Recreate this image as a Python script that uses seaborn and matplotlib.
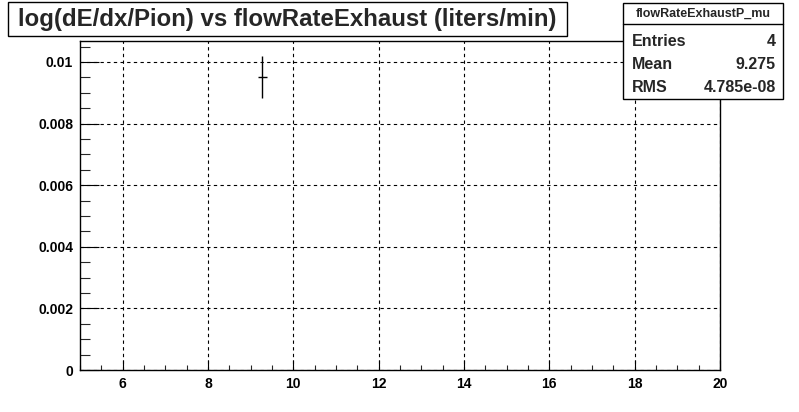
import matplotlib
matplotlib.use("Agg")
import matplotlib.pyplot as plt
import seaborn as sns
import numpy as np
from matplotlib.ticker import MultipleLocator

# data
flow_rate = [9.275]
dedx_mean = [0.00951]
dedx_err = [0.00069]
flow_halfwidth = [0.1]
stats_labels = ["Entries", "Mean", "RMS"]
stats_values = ["4", "9.275", "4.785e-08"]
title_text = "log(dE/dx/Pion) vs flowRateExhaust (liters/min)"
stats_name = "flowRateExhaustP_mu"

sns.set_theme(style="ticks")
plt.rcParams['font.family'] = ['Liberation Sans', 'DejaVu Sans']

fig = plt.figure(figsize=(7.99, 4.12), dpi=100)
W, H = 799, 412
ax = fig.add_axes([80/W, 1-370/H, 640/W, 329/H])

ax.errorbar(flow_rate, dedx_mean, yerr=dedx_err, xerr=flow_halfwidth,
            fmt='none', ecolor='black', elinewidth=1.0, capsize=0)

ax.set_xlim(5, 20)
ax.set_ylim(0, 0.01068)
ax.xaxis.set_major_locator(MultipleLocator(2))
ax.xaxis.set_minor_locator(MultipleLocator(0.5))
ax.yaxis.set_major_locator(MultipleLocator(0.002))
ax.yaxis.set_minor_locator(MultipleLocator(0.0005))
ax.set_xticks([6, 8, 10, 12, 14, 16, 18, 20])
ax.set_xticklabels(["6", "8", "10", "12", "14", "16", "18", "20"])
ax.set_yticks([0, 0.002, 0.004, 0.006, 0.008, 0.01])
ax.set_yticklabels(["0", "0.002", "0.004", "0.006", "0.008", "0.01"])

ax.grid(True, which='major', color='black', linestyle=(0, (3, 3)), linewidth=0.8)
for s in ['top', 'right', 'left', 'bottom']:
    ax.spines[s].set_visible(True)
    ax.spines[s].set_color('black')
    ax.spines[s].set_linewidth(1.0)

ax.tick_params(axis='x', which='major', direction='in', length=7.2, width=0.8,
               pad=5, labelsize=10, colors='black', top=False)
ax.tick_params(axis='x', which='minor', direction='in', length=3.6, width=0.8, top=False)
ax.tick_params(axis='y', which='major', direction='in', length=14, width=0.8,
               pad=5, labelsize=10, colors='black', right=False)
ax.tick_params(axis='y', which='minor', direction='in', length=7.2, width=0.8, right=False)
for lbl in ax.get_xticklabels() + ax.get_yticklabels():
    lbl.set_fontweight('bold')

# title box
tb = plt.Rectangle((8/W, 1-36/H), (567-8)/W, 34/H, transform=fig.transFigure,
                   facecolor='white', edgecolor='black', linewidth=1.0, zorder=5)
fig.add_artist(tb)
fig.text((8+567)/2/W, 1-19.5/H, title_text, ha='center', va='center',
         fontsize=17.3, fontweight='bold', zorder=6)

# stats box
x0, x1, y0, y1 = 623, 783, 3, 99
sb = plt.Rectangle((x0/W, 1-y1/H), (x1-x0)/W, (y1-y0)/H, transform=fig.transFigure,
                   facecolor='white', edgecolor='black', linewidth=1.0, zorder=5)
fig.add_artist(sb)
fig.add_artist(plt.Line2D([x0/W, x1/W], [1-24/H, 1-24/H], transform=fig.transFigure,
                          color='black', linewidth=1.0, zorder=6))
fig.text((x0+x1)/2/W, 1-13.5/H, stats_name, ha='center', va='center',
         fontsize=9, fontweight='bold', zorder=6)
rows_y = [41, 64.5, 87.5]
for lab, val, yy in zip(stats_labels, stats_values, rows_y):
    fig.text(632/W, 1-yy/H, lab, ha='left', va='center', fontsize=11.5,
             fontweight='bold', zorder=6)
    fig.text(776/W, 1-yy/H, val, ha='right', va='center', fontsize=11.5,
             fontweight='bold', zorder=6)

fig.savefig("out.png", dpi=100, facecolor='white')
